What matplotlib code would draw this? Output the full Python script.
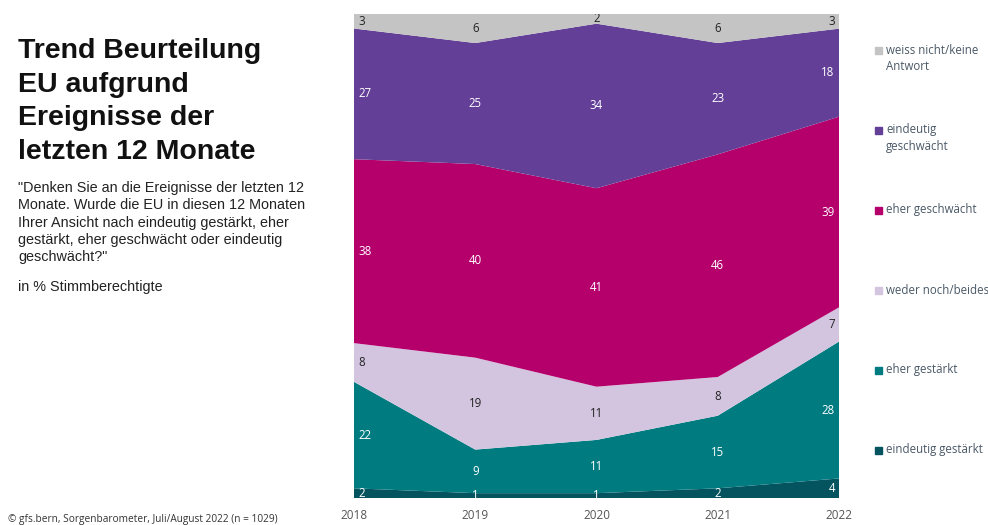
import matplotlib.pyplot as plt
from matplotlib.patches import Rectangle
import numpy as np

# survey results per year, in % (bottom to top of the stack)
years = [2018, 2019, 2020, 2021, 2022]
eindeutig_gestaerkt = [2, 1, 1, 2, 4]
eher_gestaerkt = [22, 9, 11, 15, 28]
weder_noch = [8, 19, 11, 8, 7]
eher_geschwaecht = [38, 40, 41, 46, 39]
eindeutig_geschwaecht = [27, 25, 34, 23, 18]
weiss_nicht = [3, 6, 2, 6, 3]

series = [eindeutig_gestaerkt, eher_gestaerkt, weder_noch,
          eher_geschwaecht, eindeutig_geschwaecht, weiss_nicht]
labels = ["eindeutig gestärkt", "eher gestärkt", "weder noch/beides",
          "eher geschwächt", "eindeutig\ngeschwächt", "weiss nicht/keine\nAntwort"]
colors = ["#04545f", "#007b80", "#d3c5e0", "#b5006c", "#633f97", "#c4c4c4"]
text_colors = ["white", "white", "#222222", "white", "white", "#222222"]

LABEL_FONT = ["Open Sans", "DejaVu Sans"]

fig = plt.figure(figsize=(9.88, 5.25), dpi=100)
ax = fig.add_axes([354 / 988, 1 - 498 / 525, 485 / 988, 484 / 525])

vals = np.array(series, dtype=float)
shares = vals / vals.sum(axis=0) * 100  # 100% stacked
ax.stackplot(years, shares, colors=colors, linewidth=0)

ax.set_xlim(years[0], years[-1])
ax.set_ylim(0, 100)
for s in ax.spines.values():
    s.set_visible(False)
ax.set_yticks([])
ax.set_xticks(years)
ax.set_xticklabels([str(y) for y in years], family=LABEL_FONT, fontsize=8.5, color="#555555")
ax.tick_params(axis="x", length=0, pad=8)

# value labels in the middle of each band
bottoms = np.cumsum(shares, axis=0) - shares
for i, row in enumerate(series):
    for j, yr in enumerate(years):
        mid = bottoms[i, j] + shares[i, j] / 2
        if j == 0:
            ha, dx = "left", 3
        elif j == len(years) - 1:
            ha, dx = "right", -3
        else:
            ha, dx = "center", 0
        ax.annotate(str(row[j]), (yr, mid), xytext=(dx, 0), textcoords="offset points",
                    ha=ha, va="center", fontsize=8.3, color=text_colors[i],
                    family=LABEL_FONT, annotation_clip=False, clip_on=True)

# legend on the right, top item first
leg_top = 1 - 50 / 525
leg_step = 80 / 525
for k, i in enumerate(range(len(series) - 1, -1, -1)):
    y = leg_top - k * leg_step
    fig.patches.append(Rectangle((875 / 988, y - 3.5 / 525), 6.5 / 988, 6.5 / 525,
                                 transform=fig.transFigure, color=colors[i]))
    fig.text(886 / 988, y + 6.5 / 525, labels[i], ha="left", va="top", fontsize=8.3,
             color="#4a5866", family=LABEL_FONT, linespacing=1.38)

# title block
fig.text(18 / 988, 1 - 38 / 525, "Trend Beurteilung\nEU aufgrund\nEreignisse der\nletzten 12 Monate",
         ha="left", va="top", fontsize=20.5, fontweight="bold", family="Liberation Sans",
         color="#111111", linespacing=1.38)
fig.text(18 / 988, 1 - 181 / 525,
         "\"Denken Sie an die Ereignisse der letzten 12\nMonate. Wurde die EU in diesen 12 Monaten\n"
         "Ihrer Ansicht nach eindeutig gestärkt, eher\ngestärkt, eher geschwächt oder eindeutig\ngeschwächt?\"",
         ha="left", va="top", fontsize=10.35, family="Liberation Sans", color="#222222",
         linespacing=1.3)
fig.text(18 / 988, 1 - 280 / 525, "in % Stimmberechtigte", ha="left", va="top",
         fontsize=10.35, family="Liberation Sans", color="#222222")
fig.text(8 / 988, 1 - 525 / 525, "© gfs.bern, Sorgenbarometer, Juli/August 2022 (n = 1029)",
         ha="left", va="bottom", fontsize=7.3, family=LABEL_FONT, color="#333333")

fig.savefig("out.png", dpi=100)
